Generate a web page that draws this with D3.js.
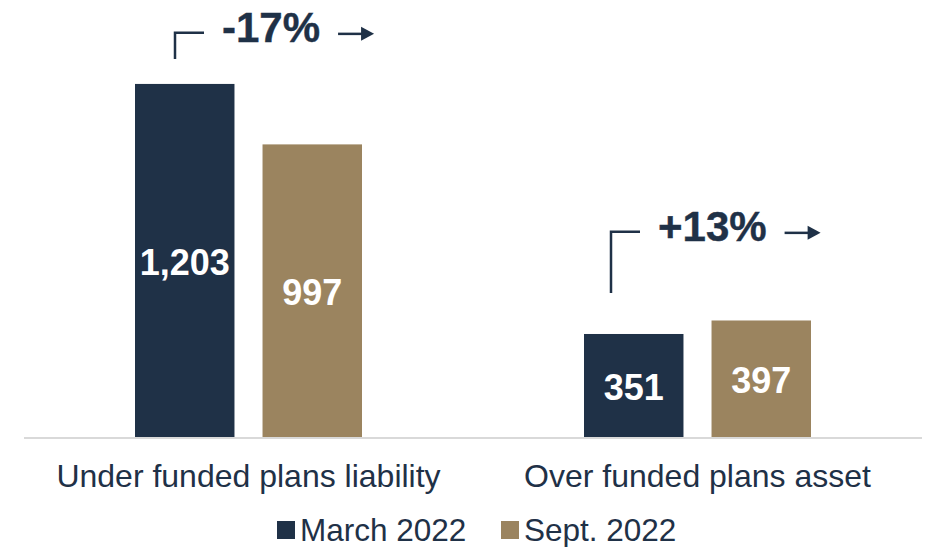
<!DOCTYPE html>
<html>
<head>
<meta charset="utf-8">
<script src="https://cdn.jsdelivr.net/npm/d3@7"></script>
<style>
  body { margin: 0; background: #fff; }
  svg { display: block; font-family: Arial, "Liberation Sans", sans-serif; }
</style>
</head>
<body>
<svg id="chart" width="930" height="547"></svg>
<script>
// chart data
var categories = ['Under funded plans liability', 'Over funded plans asset'];
var seriesNames = ['March 2022', 'Sept. 2022'];
var march2022 = [1203, 351];
var sept2022 = [997, 397];
var changeLabels = ['-17%', '+13%'];
// bracket levels, in value units: top of the bracket and foot of its stem
var bracketTop = [1377, 699];
var bracketFoot = [1288, 491];

var navy = '#1f3147', gold = '#9b845f';
var colors = [navy, gold];

var svg = d3.select('#chart'),
    width = +svg.attr('width'),
    height = +svg.attr('height');

var baseY = 437;

var x = d3.scaleBand().domain(categories).range([24, 922]);
var xInner = d3.scaleBand().domain(seriesNames).range([0, 227]).paddingInner(0.22);
var y = d3.scaleLinear().domain([0, 1489]).range([baseY, 0]);

var data = [];
categories.forEach(function (c, i) {
  data.push({ cat: c, series: seriesNames[0], value: march2022[i] });
  data.push({ cat: c, series: seriesNames[1], value: sept2022[i] });
});

function barX(d) {
  return x(d.cat) + (x.bandwidth() - 227) / 2 + xInner(d.series);
}

// bars
svg.append('g').selectAll('rect')
  .data(data)
  .enter()
  .append('rect')
  .attr('x', barX)
  .attr('y', function (d) { return y(d.value); })
  .attr('width', xInner.bandwidth())
  .attr('height', function (d) { return baseY - y(d.value); })
  .attr('fill', function (d) { return colors[seriesNames.indexOf(d.series)]; });

// baseline
svg.append('line')
  .attr('x1', x.range()[0]).attr('x2', x.range()[1])
  .attr('y1', baseY + 1).attr('y2', baseY + 1)
  .attr('stroke', '#d9d9d9').attr('stroke-width', 2);

// value labels inside bars
var fmt = d3.format(',');
svg.append('g').selectAll('text')
  .data(data)
  .enter()
  .append('text')
  .attr('x', function (d) { return barX(d) + xInner.bandwidth() / 2; })
  .attr('y', function (d) { return (y(d.value) + baseY) / 2 + 1.5; })
  .attr('dy', '0.36em')
  .attr('text-anchor', 'middle')
  .attr('fill', '#fff')
  .attr('font-weight', 'bold')
  .attr('font-size', 36)
  .text(function (d) { return fmt(d.value); });

// category labels
svg.append('g').selectAll('text')
  .data(categories)
  .enter()
  .append('text')
  .attr('x', function (d) { return x(d) + x.bandwidth() / 2; })
  .attr('y', 487)
  .attr('text-anchor', 'middle')
  .attr('fill', navy)
  .attr('font-size', 32)
  .text(function (d) { return d; });

// change annotations: bracket, percentage, arrow
var ann = svg.append('g').selectAll('g')
  .data(categories)
  .enter()
  .append('g');

ann.each(function (c, i) {
  var g = d3.select(this);
  var left = x(c) + (x.bandwidth() - 227) / 2;
  var stemX = left + (i === 0 ? 40 : 27);
  var top = y(bracketTop[i]);
  g.append('path')
    .attr('d', 'M' + stemX + ',' + y(bracketFoot[i]) + 'V' + top + 'H' + (stemX + 29))
    .attr('fill', 'none')
    .attr('stroke', navy)
    .attr('stroke-width', 2.5);
  var tx = stemX + 47;
  var t = g.append('text')
    .attr('x', tx)
    .attr('y', top + 9)
    .attr('fill', navy)
    .attr('stroke', navy)
    .attr('stroke-width', 0.4)
    .attr('font-weight', 'bold')
    .attr('font-size', 42)
    .text(changeLabels[i]);
  var tw = t.node().getComputedTextLength();
  var a0 = tx + tw + 18, a1 = a0 + 36, ay = top + 1;
  g.append('line')
    .attr('x1', a0).attr('x2', a1 - 10)
    .attr('y1', ay).attr('y2', ay)
    .attr('stroke', navy)
    .attr('stroke-width', 2.5);
  g.append('path')
    .attr('d', 'M' + (a1 - 13) + ',' + (ay - 7) + 'L' + a1 + ',' + ay + 'L' + (a1 - 13) + ',' + (ay + 7) + 'Z')
    .attr('fill', navy);
});

// legend
var legend = svg.append('g');
var legendX = [277, 501];
seriesNames.forEach(function (s, i) {
  legend.append('rect')
    .attr('x', legendX[i]).attr('y', 521)
    .attr('width', 18).attr('height', 18)
    .attr('fill', colors[i]);
  legend.append('text')
    .attr('x', legendX[i] + 23)
    .attr('y', 541)
    .attr('fill', navy)
    .attr('font-size', 31.5)
    .text(s);
});
</script>
</body>
</html>
